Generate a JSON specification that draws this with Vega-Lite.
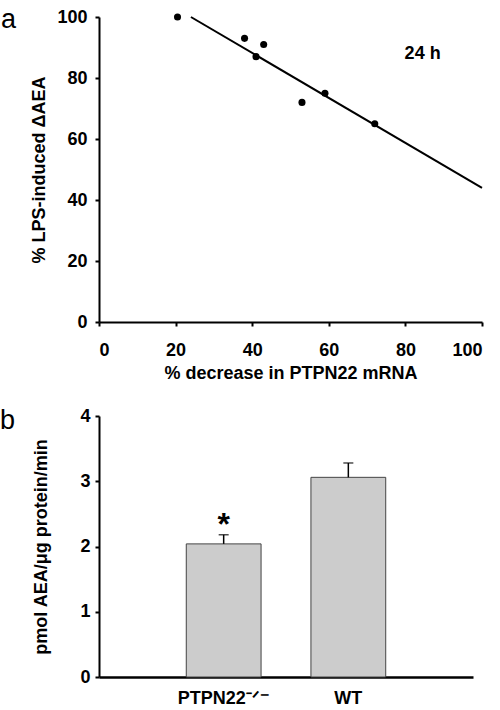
{
  "$schema": "https://vega.github.io/schema/vega-lite/v6.json",
  "padding": {"left": 0, "top": 6, "right": 5, "bottom": 0},
  "background": "white",
  "config": {
    "font": "Liberation Sans",
    "view": {"stroke": null},
    "axis": {
      "grid": false,
      "domainColor": "black",
      "domainWidth": 2,
      "tickColor": "black",
      "tickWidth": 2,
      "tickSize": 4,
      "labelFont": "Liberation Sans",
      "labelFontSize": 18,
      "labelFontWeight": "bold",
      "labelColor": "black",
      "titleFont": "Liberation Sans",
      "titleFontSize": 18,
      "titleFontWeight": "bold",
      "titleColor": "black"
    }
  },
  "datasets": {
    "points": [
      {"decrease": 20.5, "aea": 100},
      {"decrease": 38, "aea": 93},
      {"decrease": 41, "aea": 87},
      {"decrease": 43, "aea": 91},
      {"decrease": 53, "aea": 72},
      {"decrease": 59, "aea": 75},
      {"decrease": 72, "aea": 65}
    ],
    "fit": [
      {"decrease": 24, "aea": 100},
      {"decrease": 100, "aea": 44}
    ],
    "note": [
      {"decrease": 84.5, "aea": 88, "label": "24 h"}
    ],
    "bars": [
      {"group": "PTPN22⁻ᐟ⁻", "mean": 2.04, "upper": 2.18, "star": "*"},
      {"group": "WT", "mean": 3.06, "upper": 3.28, "star": ""}
    ]
  },
  "spacing": 25,
  "vconcat": [
    {
      "width": 383,
      "height": 305,
      "title": {"text": "a", "anchor": "start", "frame": "group", "fontSize": 27, "fontWeight": "normal", "font": "Liberation Sans", "color": "black", "offset": -26, "dx": -98},
      "layer": [
        {
          "data": {"name": "fit"},
          "mark": {"type": "line", "color": "black", "strokeWidth": 2},
          "encoding": {
            "x": {"field": "decrease", "type": "quantitative", "scale": {"domain": [0, 100]},
                  "axis": {"values": [0, 20, 40, 60, 80, 100], "labelPadding": 15, "titlePadding": 5},
                  "title": "% decrease in PTPN22 mRNA"},
            "y": {"field": "aea", "type": "quantitative", "scale": {"domain": [0, 100]},
                  "axis": {"values": [0, 20, 40, 60, 80, 100], "labelPadding": 8, "titlePadding": 8},
                  "title": "% LPS-induced ΔAEA"}
          }
        },
        {
          "data": {"name": "points"},
          "mark": {"type": "circle", "size": 50, "color": "black", "opacity": 1},
          "encoding": {
            "x": {"field": "decrease", "type": "quantitative"},
            "y": {"field": "aea", "type": "quantitative"}
          }
        },
        {
          "data": {"name": "note"},
          "mark": {"type": "text", "fontSize": 18, "fontWeight": "bold", "color": "black"},
          "encoding": {
            "x": {"field": "decrease", "type": "quantitative"},
            "y": {"field": "aea", "type": "quantitative"},
            "text": {"field": "label"}
          }
        }
      ]
    },
    {
      "width": 374,
      "height": 261,
      "title": {"text": "b", "anchor": "start", "frame": "group", "fontSize": 27, "fontWeight": "normal", "font": "Liberation Sans", "color": "black", "offset": -28, "dx": -99},
      "data": {"name": "bars"},
      "encoding": {
        "x": {"field": "group", "type": "nominal", "sort": null,
              "scale": {"paddingInner": 0.4, "paddingOuter": 0.7},
              "axis": {"labelAngle": 0, "ticks": false, "tickSize": 0, "labelPadding": 12, "domainWidth": 2.5},
              "title": null}
      },
      "layer": [
        {
          "mark": {"type": "bar", "fill": "#cccccc", "stroke": "#444444", "strokeWidth": 1},
          "encoding": {
            "y": {"field": "mean", "type": "quantitative", "scale": {"domain": [0, 4]},
                  "axis": {"values": [0, 1, 2, 3, 4], "format": "d", "labelPadding": 5, "titlePadding": 29},
                  "title": "pmol AEA/μg protein/min"}
          }
        },
        {
          "mark": {"type": "rule", "color": "black", "strokeWidth": 1.5},
          "encoding": {
            "y": {"field": "mean", "type": "quantitative"},
            "y2": {"field": "upper"}
          }
        },
        {
          "mark": {"type": "tick", "color": "black", "thickness": 1.5, "size": 10, "orient": "horizontal"},
          "encoding": {
            "y": {"field": "upper", "type": "quantitative"}
          }
        },
        {
          "mark": {"type": "text", "fontSize": 32, "fontWeight": "bold", "color": "black", "baseline": "alphabetic"},
          "encoding": {
            "y": {"field": "upper", "type": "quantitative"},
            "text": {"field": "star"}
          }
        }
      ]
    }
  ]
}
